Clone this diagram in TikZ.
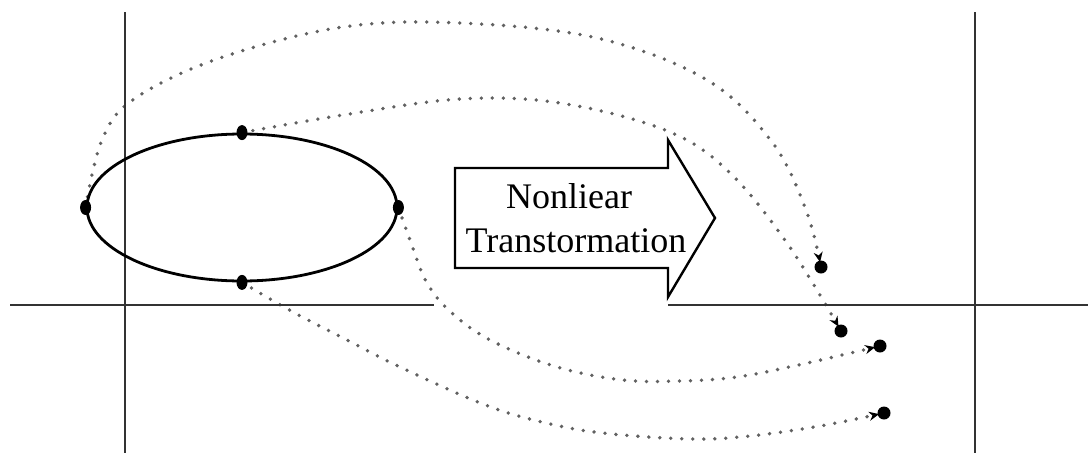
\documentclass[tikz,border=0pt]{standalone}
\usepackage{fontspec}
\setmainfont{Liberation Serif}
\usetikzlibrary{arrows.meta,shapes.geometric}
\pgfdeclarelayer{curves}
\pgfsetlayers{curves,main}
\begin{document}
\begin{tikzpicture}[x=1pt,y=-1pt,
  axisline/.style={draw=black!80,line width=2.4pt},
  orbit/.style={ellipse,draw=black,line width=2.8pt,minimum width=310pt,minimum height=147pt,inner sep=0pt},
  srcdot/.style={ellipse,fill=black,inner sep=0pt,minimum width=11pt,minimum height=15pt},
  dstdot/.style={circle,fill=black,inner sep=0pt,minimum size=13pt},
  mapcurve/.style={draw=black!62,line width=3.8pt,line cap=round,dash pattern=on 0pt off 11pt,
     -{Stealth[length=10pt,width=9pt,black]},shorten >=5pt},
  bigarrow/.style={draw=black,line width=2.4pt,fill=white,line join=miter},
  arrowtext/.style={font=\fontsize{36}{44}\selectfont,inner sep=0pt,anchor=base}]
\useasboundingbox (0,0) rectangle (1088,453);

% coordinate axes, before and after the mapping
\coordinate (lxa) at (10,305);  \coordinate (lxb) at (434,305);
\coordinate (lya) at (125,12);  \coordinate (lyb) at (125,453);
\coordinate (rxa) at (668,305); \coordinate (rxb) at (1088,305);
\coordinate (rya) at (975,12);  \coordinate (ryb) at (975,453);
\draw[axisline] (lxa) -- (lxb);
\draw[axisline] (lya) -- (lyb);
\draw[axisline] (rxa) -- (rxb);
\draw[axisline] (rya) -- (ryb);

% the ellipse and its four marked points
\node[orbit] (E) at (242,207.5) {};
\node[srcdot] (pL) at (E.west) {};
\node[srcdot] (pT) at (E.north) {};
\node[srcdot] (pR) at (E.east) {};
\node[srcdot] (pB) at (E.south) {};

% mapped points
\node[dstdot] (t1) at (821,267) {};
\node[dstdot] (t2) at (841,331) {};
\node[dstdot] (t3) at (880,346) {};
\node[dstdot] (t4) at (884,413) {};

% block arrow with its label
\coordinate (ba) at (455,168);
\draw[bigarrow] (ba) -- (668,168) -- (668,140) -- (715,218) -- (668,297) -- (668,268) -- (455,268) -- cycle;
\node[arrowtext] (lab1) at (569,208) {Nonliear};
\node[arrowtext] (lab2) at (576,252) {Transtormation};

% dotted mapping curves
\begin{pgfonlayer}{curves}
\draw[mapcurve] plot[smooth,tension=0.6] coordinates {(pL.center) (102,140) (134,99) (220,58) (343,27) (460,23) (597,38) (707,80) (772,142) (806,210) (t1.center)};
\draw[mapcurve] plot[smooth,tension=0.6] coordinates {(pT.center) (343,115) (460,99) (560,103) (665,130) (727,170) (787,243) (t2.center)};
\draw[mapcurve] plot[smooth,tension=0.6] coordinates {(pR.center) (410,240) (427,283) (452,313) (492,341) (557,367) (623,380) (680,381) (737,377) (803,364) (t3.center)};
\draw[mapcurve] plot[smooth,tension=0.6] coordinates {(pB.center) (293,312) (347,340) (400,367) (488,406) (555,425) (612,434) (693,439) (750,436) (820,426) (t4.center)};
\end{pgfonlayer}
\end{tikzpicture}
\end{document}
